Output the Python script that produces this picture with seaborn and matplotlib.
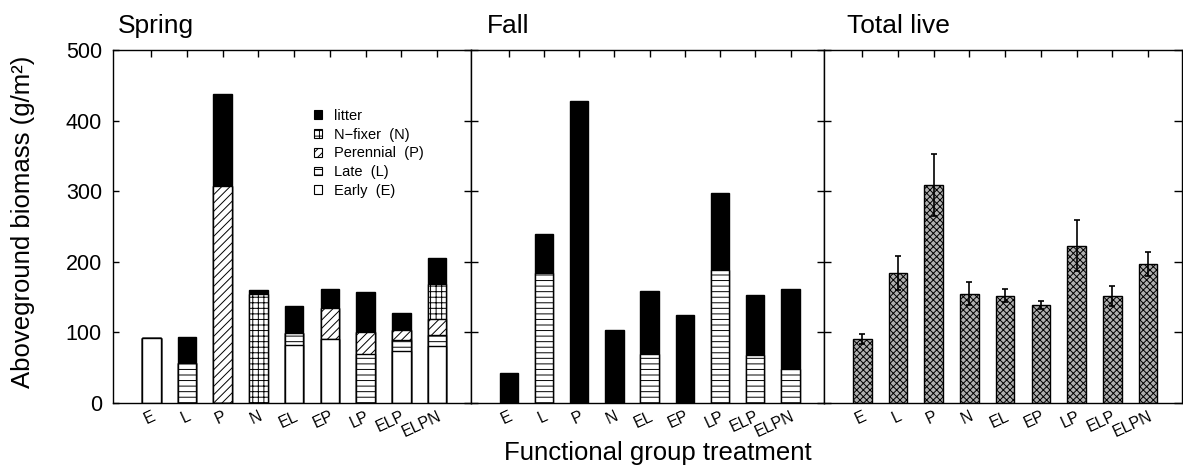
"""Aboveground biomass by functional group treatment: spring, fall, total live"""
import matplotlib

matplotlib.use("Agg")
import numpy as np
import seaborn as sns
from matplotlib import pyplot as plt
from matplotlib.patches import Patch

categories = ["E", "L", "P", "N", "EL", "EP", "LP", "ELP", "ELPN"]

# spring, stacked bottom -> top
spring_early = [92, 0, 0, 0, 82, 90, 0, 73, 81]
spring_late = [0, 57, 0, 0, 17, 0, 70, 16, 16]
spring_perennial = [0, 0, 307, 0, 0, 45, 31, 15, 22]
spring_nfixer = [0, 0, 0, 154, 0, 0, 0, 0, 50]
spring_litter = [0, 37, 131, 6, 38, 26, 56, 24, 37]

# fall
fall_late = [0, 184, 0, 0, 70, 0, 189, 68, 48]
fall_litter = [42, 55, 428, 104, 88, 125, 109, 85, 114]

# total live, mean and standard error
total_mean = [91, 184, 309, 155, 152, 139, 223, 152, 197]
total_se = [7, 24, 44, 16, 9, 6, 36, 14, 17]

STYLES = {
    "litter": ("black", ""),
    "nfixer": ("white", "+++"),
    "perennial": ("white", "////"),
    "late": ("white", "---"),
    "early": ("white", ""),
}

sns.set_style("ticks")
plt.rcParams["font.family"] = ["Liberation Sans", "DejaVu Sans"]
plt.rcParams["hatch.linewidth"] = 0.7
plt.rcParams["axes.linewidth"] = 1.0
for key in ("text.color", "axes.labelcolor", "xtick.color", "ytick.color", "axes.edgecolor"):
    plt.rcParams[key] = "black"

W, H = 1183, 466
fig = plt.figure(figsize=(W / 100, H / 100), dpi=100)
edges = [113, 471, 824, 1182]
top_px, bottom_px = 50, 403


def make_axes(i):
    return fig.add_axes(
        [
            edges[i] / W,
            1 - bottom_px / H,
            (edges[i + 1] - edges[i]) / W,
            (bottom_px - top_px) / H,
        ]
    )


def stacked(ax, layers):
    # draw cumulative heights from the top layer down so each overlay shows its own band
    cum = np.cumsum([vals for vals, _ in layers], axis=0)
    for k in range(len(layers) - 1, -1, -1):
        face, hatch = STYLES[layers[k][1]]
        sns.barplot(
            x=categories,
            y=cum[k],
            color=face,
            hatch=hatch,
            edgecolor="black",
            linewidth=1.0,
            width=0.52,
            saturation=1,
            errorbar=None,
            ax=ax,
        )


def finish(ax, title, title_dx, left_dir):
    ax.set_ylim(0, 500)
    ax.set_yticks(range(0, 501, 100))
    ax.set_xlim(-1.07, 8.95)
    ax.set_xticks(range(len(categories)))
    ax.set_xticklabels(
        categories, rotation=25, ha="right", va="top", rotation_mode="anchor", fontsize=11.5
    )
    ax.set_xlabel("")
    ax.set_ylabel("")
    ax.tick_params(axis="x", direction="in", top=True, bottom=True, length=5, width=1, pad=4)
    if left_dir == "in":
        ax.tick_params(axis="y", direction="in", left=True, right=False, length=4, width=1,
                       labelsize=15.5, pad=8)
    else:
        ax.tick_params(axis="y", which="both", left=True, labelleft=False, width=1, length=10,
                       direction="inout")
    for side in ("top", "right", "left", "bottom"):
        ax.spines[side].set_visible(True)
        ax.spines[side].set_color("black")
    ax.annotate(title, xy=(0, 1), xycoords="axes fraction", xytext=(title_dx * 0.72, 12.5),
                textcoords="offset points", ha="left", va="baseline", fontsize=19)


ax1 = make_axes(0)
stacked(
    ax1,
    [
        (spring_early, "early"),
        (spring_late, "late"),
        (spring_perennial, "perennial"),
        (spring_nfixer, "nfixer"),
        (spring_litter, "litter"),
    ],
)
finish(ax1, "Spring", 5, "in")

handles = [
    Patch(facecolor=STYLES[k][0], hatch=STYLES[k][1], edgecolor="black", linewidth=0.8)
    for k in ("litter", "nfixer", "perennial", "late", "early")
]
labels = ["litter", "N\u2212fixer  (N)", "Perennial  (P)", "Late  (L)", "Early  (E)"]
ax1.legend(
    handles,
    labels,
    loc="upper left",
    bbox_to_anchor=(0.545, 0.85),
    frameon=False,
    fontsize=10.5,
    handlelength=0.55,
    handleheight=0.55,
    handletextpad=0.8,
    labelspacing=0.33,
    borderaxespad=0,
)

ax2 = make_axes(1)
stacked(ax2, [(fall_late, "late"), (fall_litter, "litter")])
finish(ax2, "Fall", 16, "inout")

ax3 = make_axes(2)
sns.barplot(
    x=categories,
    y=total_mean,
    color="#b0b0b0",
    hatch="xxxxx",
    edgecolor="black",
    linewidth=1.0,
    width=0.52,
    saturation=1,
    errorbar=None,
    ax=ax3,
)
ax3.errorbar(
    range(len(categories)),
    total_mean,
    yerr=total_se,
    fmt="none",
    ecolor="black",
    elinewidth=1.2,
    capsize=2.5,
    capthick=1.2,
)
finish(ax3, "Total live", 23, "inout")
ax3.tick_params(axis="y", which="both", right=True, direction="inout", length=10)
# right-hand ticks point inward only
for t in ax3.yaxis.get_major_ticks():
    t.tick2line.set_marker(matplotlib.lines.TICKLEFT)
    t.tick2line.set_markersize(5.5)

fig.text(23 / W, 1 - 222 / H, "Aboveground biomass (g/m\u00b2)", rotation=90,
         ha="center", va="center", fontsize=18.5)
fig.text(658 / W, 1 - 460 / H, "Functional group treatment", ha="center",
         va="baseline", fontsize=18.5)

fig.savefig("out.png", dpi=100)
